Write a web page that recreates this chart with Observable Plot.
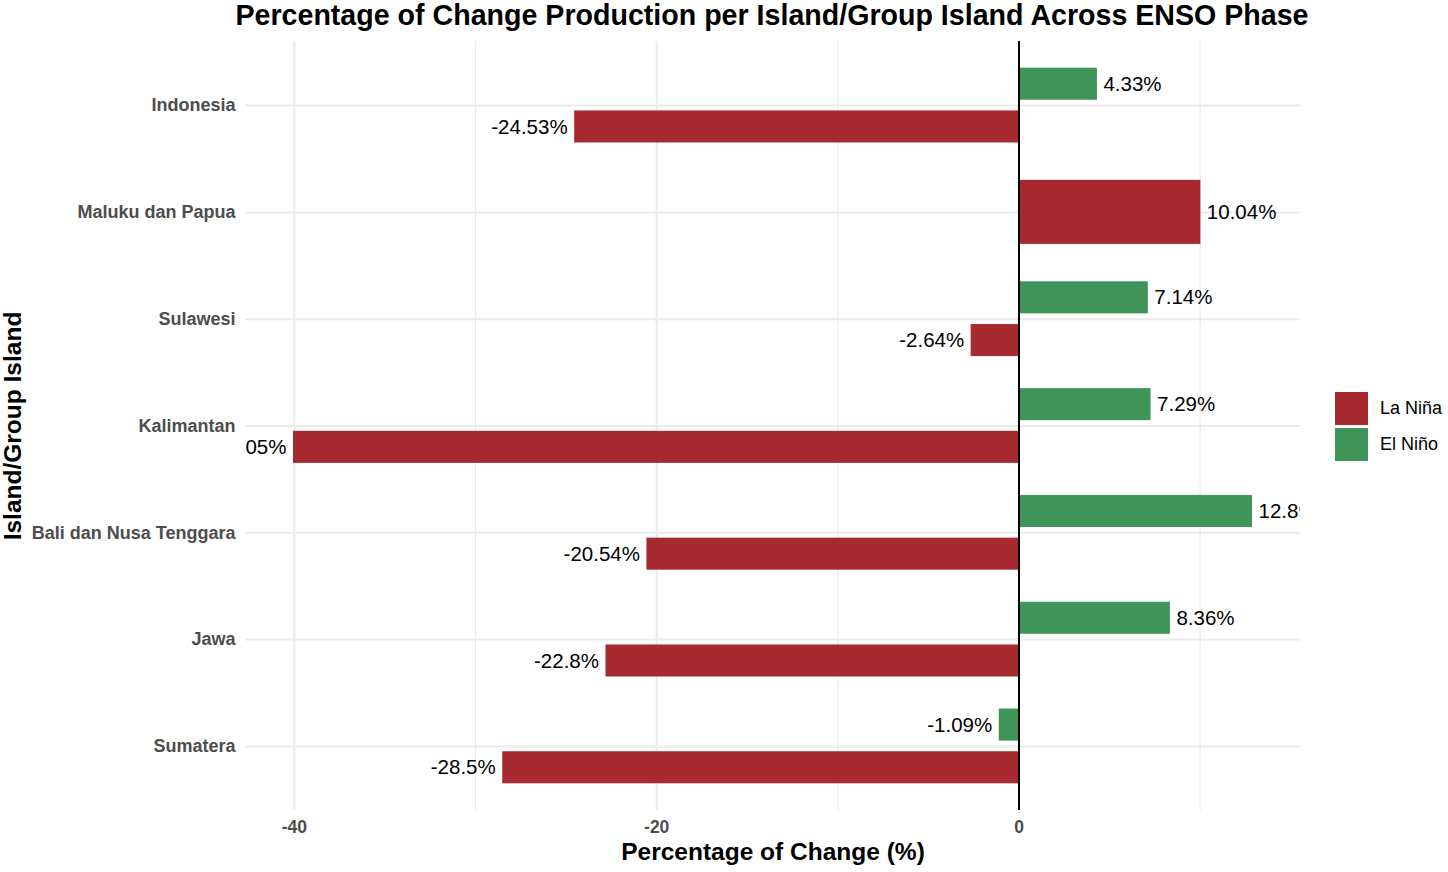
<!DOCTYPE html>
<html>
<head>
<meta charset="utf-8">
<script src="https://cdn.jsdelivr.net/npm/d3@7"></script>
<script src="https://cdn.jsdelivr.net/npm/@observablehq/plot@0.6"></script>
<style>
  body { margin: 0; background: #fff; font-family: "Liberation Sans", Arial, sans-serif; }
  #wrap { position: relative; width: 1448px; height: 872px; }
  #title { height: 38px; width: 1200px; margin-left: 172px; text-align: center;
           font-weight: bold; font-size: 28.6px; line-height: 30px; color: #000; white-space: nowrap; }
  #legend { position: absolute; left: 1335px; top: 392px; font-size: 18px; color: #000; }
  .item { display: flex; align-items: center; height: 33px; margin-bottom: 3px; }
  .key { width: 33px; height: 33px; margin-right: 12px; }
</style>
</head>
<body>
<div id="wrap">
  <div id="title">Percentage of Change Production per Island/Group Island Across ENSO Phase</div>
  <div id="chart"></div>
  <div id="legend"></div>
</div>
<script>
// Categories from top to bottom
const islands = ["Indonesia", "Maluku dan Papua", "Sulawesi", "Kalimantan", "Bali dan Nusa Tenggara", "Jawa", "Sumatera"];
const phases = ["La Niña", "El Niño"];
const phaseColors = ["#A62A30", "#3F9558"];
// values per island (same order as islands); null = no bar
const elNino = [4.33, null, 7.14, 7.29, 12.89, 8.36, -1.09];
const laNina = [-24.53, 10.04, -2.64, -40.05, -20.54, -22.8, -28.5];
const xTicks = [-40, -20, 0];
const xMinor = [-30, -10, 10];

const n = islands.length;
const rows = [];
islands.forEach((isl, i) => {
  const pos = n - i; // Sumatera = 1 at bottom
  const both = elNino[i] != null && laNina[i] != null;
  if (elNino[i] != null) rows.push({island: isl, phase: "El Niño", value: elNino[i], c: both ? pos + 0.2 : pos, h: both ? 0.15 : 0.3});
  if (laNina[i] != null) rows.push({island: isl, phase: "La Niña", value: laNina[i], c: both ? pos - 0.2 : pos, h: both ? 0.15 : 0.3});
});

const fmt = v => `${v}%`;

const chart = Plot.plot({
  width: 1448,
  height: 834,
  marginTop: 3,
  marginBottom: 62,
  marginLeft: 245,
  marginRight: 148,
  style: { fontFamily: "Liberation Sans, Arial, sans-serif", background: "#fff" },
  x: { domain: [-42.7, 15.54] },
  y: { domain: [0.4, n + 0.6] },
  color: { domain: phases, range: phaseColors },
  marks: [
    Plot.gridX(xMinor, { stroke: "#EBEBEB", strokeOpacity: 1, strokeWidth: 1.2 }),
    Plot.gridX(xTicks, { stroke: "#EBEBEB", strokeOpacity: 1, strokeWidth: 2 }),
    Plot.gridY(d3.range(1, n + 1), { stroke: "#EBEBEB", strokeOpacity: 1, strokeWidth: 2 }),
    Plot.rect(rows, { x1: 0, x2: "value", y1: d => d.c - d.h, y2: d => d.c + d.h, fill: "phase" }),
    Plot.ruleX([0], { stroke: "#000", strokeWidth: 2 }),
    Plot.text(rows, {
      x: "value", y: "c", text: d => fmt(d.value),
      textAnchor: "start", clip: true,
      filter: d => d.value > 0, dx: 6, fontSize: 20.5, fill: "#000"
    }),
    Plot.text(rows, {
      x: "value", y: "c", text: d => fmt(d.value),
      textAnchor: "end", clip: true,
      filter: d => d.value <= 0, dx: -7, fontSize: 20.5, fill: "#000"
    }),
    Plot.axisX({ ticks: xTicks, tickFormat: d => String(d), tickSize: 0, tickPadding: 10, fontSize: 17.5, fontWeight: "bold", color: "#4D4D4D", label: null }),
    Plot.axisY({ ticks: d3.range(1, n + 1), tickFormat: p => islands[n - p], tickSize: 0, tickPadding: 10, fontSize: 18, fontWeight: "bold", color: "#4D4D4D", label: null }),
    Plot.text(["Percentage of Change (%)"], { frameAnchor: "bottom", dy: 42, fontSize: 24.5, fontWeight: "bold", fill: "#000", textAnchor: "middle", lineAnchor: "middle" }),
    Plot.text(["Island/Group Island"], { frameAnchor: "left", dx: -232, rotate: -90, fontSize: 24.5, fontWeight: "bold", fill: "#000", textAnchor: "middle", lineAnchor: "middle" })
  ]
});
document.getElementById("chart").appendChild(chart);

const legend = document.getElementById("legend");
phases.forEach((p, i) => {
  const item = document.createElement("div");
  item.className = "item";
  const key = document.createElement("div");
  key.className = "key";
  key.style.background = phaseColors[i];
  const lab = document.createElement("span");
  lab.textContent = p;
  item.appendChild(key);
  item.appendChild(lab);
  legend.appendChild(item);
});
</script>
</body>
</html>
